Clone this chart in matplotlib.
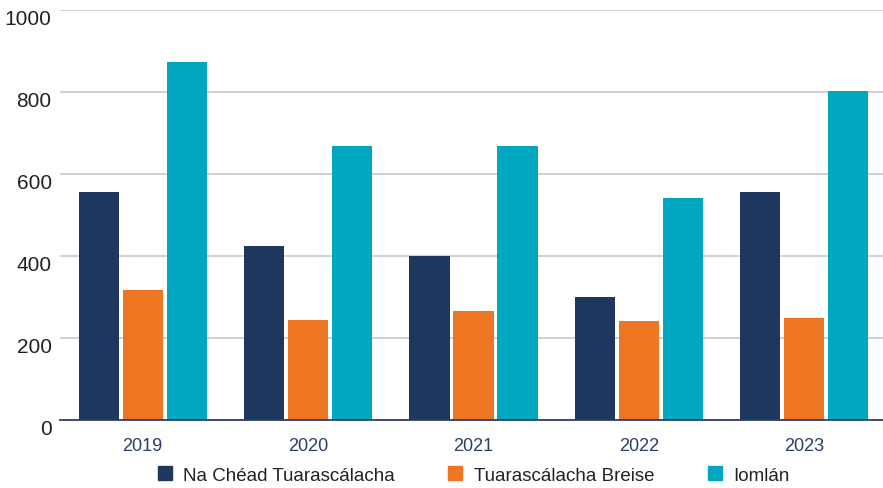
import matplotlib
matplotlib.use("Agg")
import matplotlib.pyplot as plt
import matplotlib.transforms as mtransforms
from matplotlib.lines import Line2D
import numpy as np

plt.rcParams['font.family'] = ['Liberation Sans', 'DejaVu Sans']

years = ["2019", "2020", "2021", "2022", "2023"]
series_names = ["Na Chéad Tuarascálacha", "Tuarascálacha Breise", "Iomlán"]
first_reports = [556, 424, 400, 300, 554]
further_reports = [315, 244, 266, 241, 249]
total = [873, 668, 668, 541, 802]

colors = ["#1f365f", "#ee7623", "#00a8bf"]
grid_color = "#cdcad8"
axis_color = "#2b3f6b"

fig = plt.figure(figsize=(8.83, 4.89), dpi=100)
ax = fig.add_axes([60 / 883, 68.4 / 489, 827 / 883, 410 / 489])

x = np.arange(len(years))
bar_w = 0.242
step = 0.266
for i, (vals, col) in enumerate(zip([first_reports, further_reports, total], colors)):
    ax.bar(x + (i - 1) * step, vals, width=bar_w, color=col, zorder=3, label=series_names[i])

ax.set_xlim(-0.5, len(years) - 0.5)
ax.set_ylim(0, 1000)
ax.set_yticks(range(0, 1001, 200))
ax.set_xticks(x)
ax.set_xticklabels(years)

ax.yaxis.grid(True, color=grid_color, linewidth=1.3, zorder=0)
ax.xaxis.grid(False)
for s in ["top", "right", "left"]:
    ax.spines[s].set_visible(False)
ax.spines["bottom"].set_color(axis_color)
ax.spines["bottom"].set_linewidth(1.3)
ax.spines["bottom"].set_zorder(4)

ax.tick_params(axis="y", length=0, pad=6, labelsize=15, labelcolor="#222222")
ax.tick_params(axis="x", length=0, pad=12.5, labelsize=13, labelcolor=axis_color)

# y labels sit a little below their gridlines
offset = mtransforms.ScaledTranslation(0, -7 / 100, fig.dpi_scale_trans)
for lab in ax.get_yticklabels():
    lab.set_transform(lab.get_transform() + offset)

handles = [Line2D([], [], marker="s", linestyle="none", markersize=9.4, color=c) for c in colors]
fig.legend(handles, series_names, loc="center", bbox_to_anchor=(472.5 / 883, 1 - 476 / 489),
           ncol=3, frameon=False, fontsize=13.5, handletextpad=0.5, columnspacing=2.7,
           handlelength=1.0, labelcolor="#222222")

fig.savefig("out.png", dpi=100)
